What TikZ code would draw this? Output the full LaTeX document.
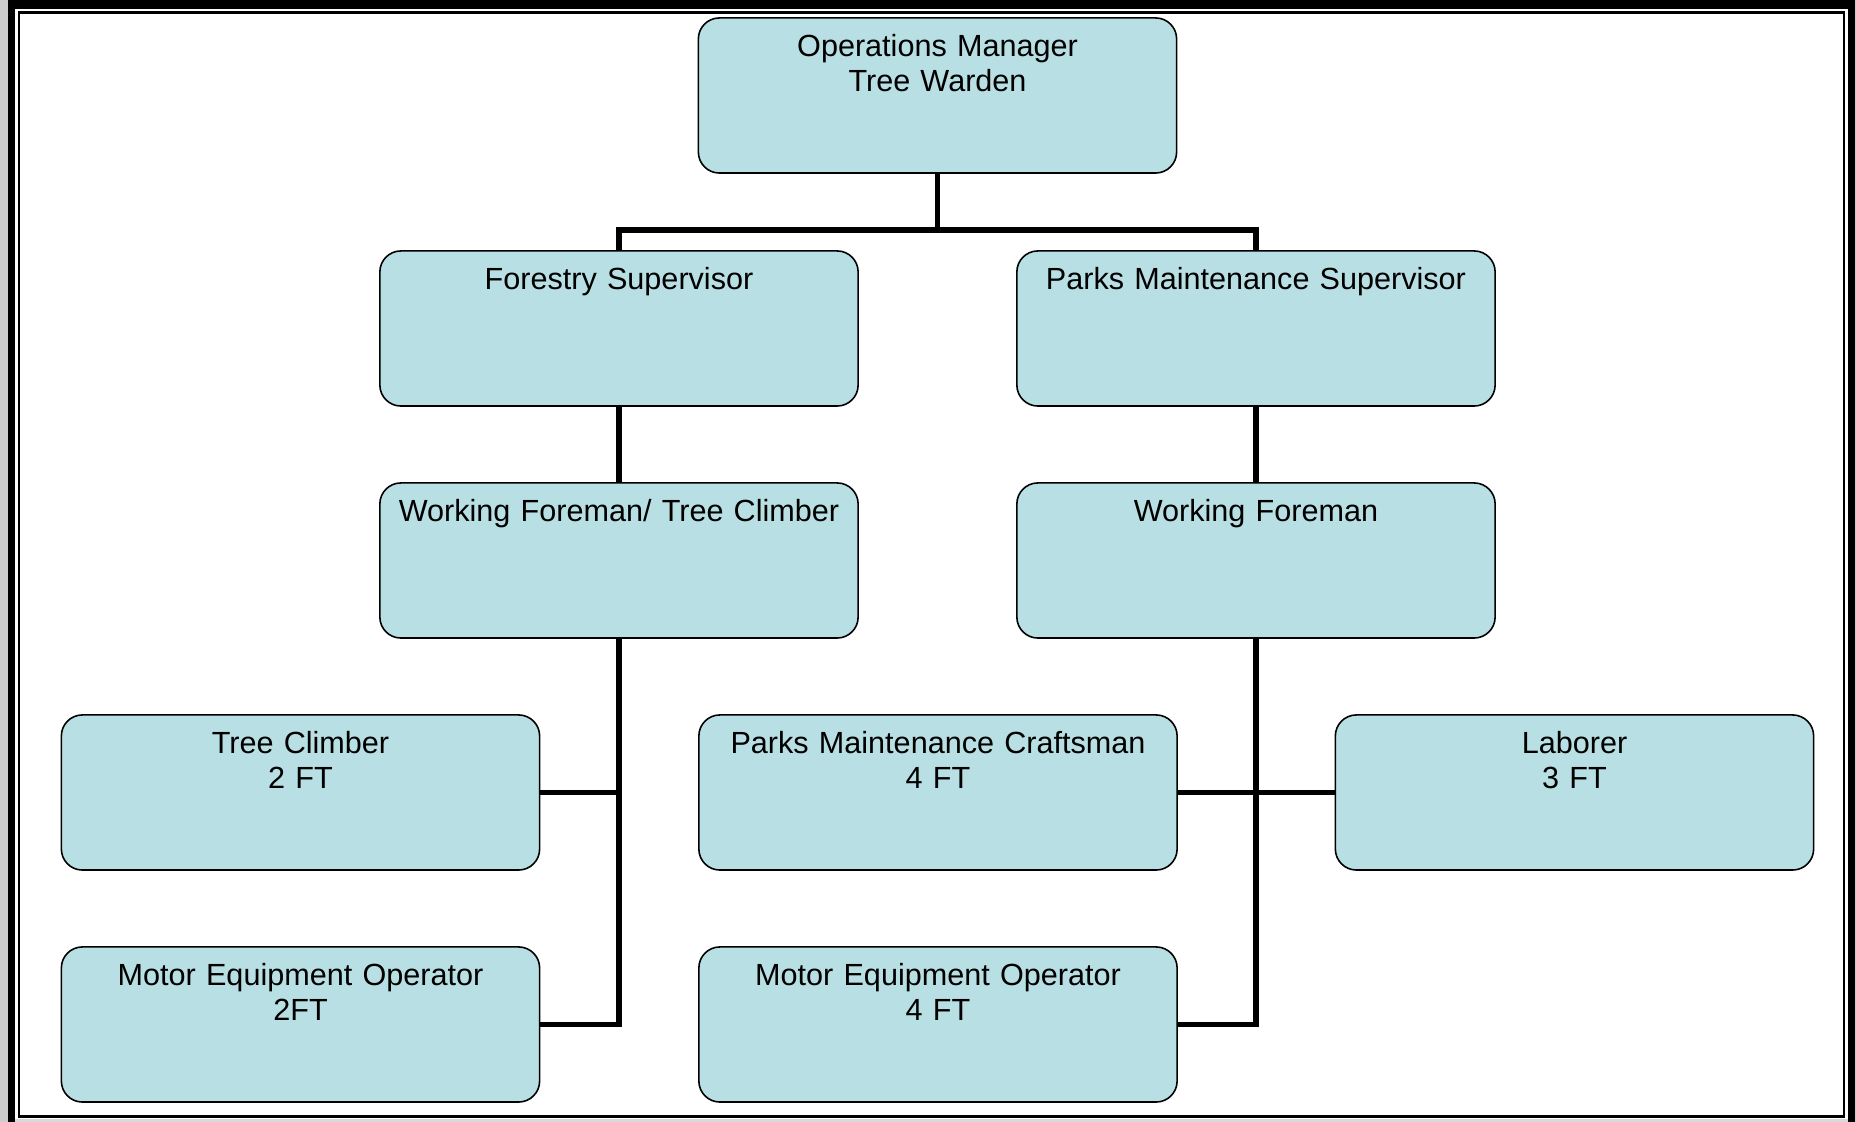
\documentclass[tikz,border=0pt]{standalone}
\usepackage{fontspec}
\setmainfont{Liberation Sans}
\definecolor{postfill}{RGB}{184,223,227}

\begin{document}
\begin{tikzpicture}[x=0.01cm, y=-0.01cm,
    post/.style={draw, fill=postfill, line width=0.45pt, rounded corners=0.21cm, inner sep=0pt,
        text width=4.78cm, align=center, text height=0.39cm, text depth=1.16cm,
        font=\fontsize{8.7}{9.96}\selectfont},
    link/.style={line width=1.6pt}]
    \useasboundingbox (0,0) rectangle (1856,1122);
    \fill[gray!40] (0,0) rectangle (1856,1122);
    \fill (8,0) rectangle (1855,1122);
    \fill[white] (15,9) rectangle (1848,1119.5);
    \fill[gray!30] (15,1119.5) rectangle (1848,1122);
    \draw[line width=0.77pt] (19,12.5) rectangle (1844,1116.5);

    \node[post] (OM) at (937.5,95.5) {Operations Manager\\Tree Warden};
    \node[post] (FS) at (619,328.5) {Forestry Supervisor};
    \node[post] (PS) at (1256,328.5) {Parks Maintenance Supervisor};
    \node[post] (WT) at (619,560.5) {Working Foreman/ Tree Climber};
    \node[post] (WF) at (1256,560.5) {Working Foreman};
    \node[post] (TC) at (300.5,792.5) {Tree Climber\\2 FT};
    \node[post] (PC) at (938,792.5) {Parks Maintenance Craftsman\\4 FT};
    \node[post] (LA) at (1574.5,792.5) {Laborer\\3 FT};
    \node[post] (M1) at (300.5,1024.5) {Motor Equipment Operator\\2FT};
    \node[post] (M2) at (938,1024.5) {Motor Equipment Operator\\4 FT};

    \coordinate (J) at (937.5,230);
    \draw[link] (OM.south) -- (J);
    \draw[link] (FS.north) |- (J) -| (PS.north);
    \draw[link] (FS) -- (WT);
    \draw[link] (PS) -- (WF);
    \draw[link] (WT.south) |- (M1.east);
    \draw[link] (TC.east) -- (TC.east -| WT.south);
    \draw[link] (WF.south) |- (M2.east);
    \draw[link] (PC) -- (LA);
\end{tikzpicture}
\end{document}
